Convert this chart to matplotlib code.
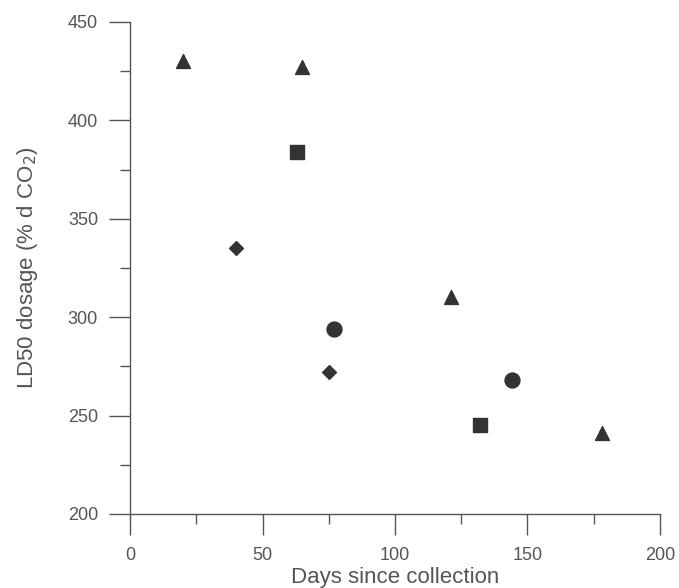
import matplotlib
matplotlib.use("Agg")
import matplotlib.pyplot as plt
from matplotlib.ticker import MultipleLocator

plt.rcParams['font.family'] = ['Liberation Sans', 'DejaVu Sans']

# (days, LD50) per marker shape
tri_x = [20, 65, 121, 178]
tri_y = [430, 427, 310, 241]
sq_x = [63, 132]
sq_y = [384, 245]
dia_x = [40, 75]
dia_y = [335, 272]
circ_x = [77, 144]
circ_y = [294, 268]

col = '#333333'
txt = '#555555'
axc = '#555555'

fig = plt.figure(figsize=(6.79, 5.88), dpi=100)
ax = fig.add_axes([0.1915, 0.126, 0.7805, 0.8366])

ax.scatter(tri_x, tri_y, marker='^', s=100, color=col, zorder=3)
ax.scatter(sq_x, sq_y, marker='s', s=115, color=col, zorder=3)
ax.scatter(dia_x, dia_y, marker='D', s=50, color=col, zorder=3)
ax.scatter(circ_x, circ_y, marker='o', s=115, color=col, zorder=3)

ax.set_xlim(0, 200)
ax.set_ylim(200, 450)
ax.xaxis.set_major_locator(MultipleLocator(50))
ax.xaxis.set_minor_locator(MultipleLocator(25))
ax.yaxis.set_major_locator(MultipleLocator(50))
ax.yaxis.set_minor_locator(MultipleLocator(25))

for s in ['top', 'right']:
    ax.spines[s].set_visible(False)
for s in ['left', 'bottom']:
    ax.spines[s].set_color(axc)
    ax.spines[s].set_linewidth(1.0)

ax.tick_params(which='major', direction='out', length=15, width=1.0, color=axc,
               labelsize=13, labelcolor=txt)
ax.tick_params(axis='y', which='major', pad=8)
ax.tick_params(axis='x', which='major', pad=9)
ax.tick_params(which='minor', direction='out', length=7.5, width=1.0, color=axc)

ax.set_xlabel('Days since collection', fontsize=16, color=txt, labelpad=2)
ax.set_ylabel('LD50 dosage (% d CO$_2$)', fontsize=16, color=txt, labelpad=20)

fig.savefig('out.png', dpi=100)
